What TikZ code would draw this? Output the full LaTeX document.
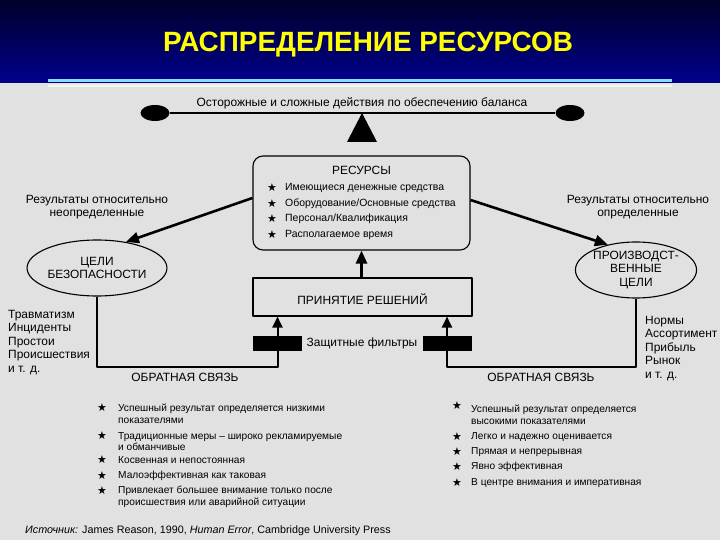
\documentclass[tikz,border=0pt]{standalone}
\usepackage{fontspec}
\setmainfont{Liberation Sans}
\newfontfamily\starfont{DejaVu Sans}
\usetikzlibrary{shapes.geometric,arrows.meta}
\definecolor{slidebg}{HTML}{E1E1E1}
\definecolor{bandtop}{HTML}{00002A}
\definecolor{bandbot}{HTML}{000088}
\definecolor{rulecyan}{HTML}{88DDFF}
\definecolor{titleyel}{HTML}{FFFF00}
\begin{document}
\begin{tikzpicture}[x=1bp,y=-1bp,line join=round,
  txt/.style={font=\fontsize{12}{14}\selectfont,inner sep=0pt},
  item/.style={font=\fontsize{10.5}{12}\selectfont,inner sep=0pt},
  note/.style={font=\fontsize{10.2}{11.8}\selectfont,inner sep=0pt},
  star/.style={font=\starfont\fontsize{11}{12}\selectfont,inner sep=0pt},
  weight/.style={ellipse,fill=black,minimum width=29bp,minimum height=16bp,inner sep=0pt},
  goal/.style={ellipse,draw,line width=1.1bp,minimum width=116bp,minimum height=56bp,
    inner sep=0pt,align=center,font=\fontsize{12}{13.5}\selectfont},
  filter/.style={fill=black,minimum width=49bp,minimum height=15bp,inner sep=0pt},
  arr/.style={line width=2.6bp,-{Triangle[length=13bp,width=11bp]}},
  fb/.style={line width=2bp,-{Triangle[length=11bp,width=10bp]}}]
\useasboundingbox (0,0) rectangle (720,540);
% background
\fill[slidebg] (0,0) rectangle (720,540);
\shade[top color=bandtop,bottom color=bandbot] (0,0) rectangle (720,78);
\fill[bandbot] (0,78) rectangle (720,83);
\fill[rulecyan] (48,79) rectangle (672,82.5);
\fill[red!12] (48,84) rectangle (672,85.5);
\fill[green!10] (48,85.5) rectangle (672,87);
\node[font=\bfseries\fontsize{28}{32}\selectfont,text=titleyel,inner sep=0pt] (title) at (368,45) {РАСПРЕДЕЛЕНИЕ РЕСУРСОВ};

% balance
\node[weight] (balL) at (155,113) {};
\node[weight] (balR) at (570,113) {};
\draw[line width=1.4bp] (balL) -- (balR);
\fill (362,113) -- (377,142) -- (347,142) -- cycle;
\node[txt] (balance) at (362,103) {Осторожные и сложные действия по обеспечению баланса};

% resources
\node[draw,line width=1.1bp,rounded corners=10bp,minimum width=217bp,minimum height=94bp,inner sep=0pt] (res) at (361.5,203) {};
\node[txt] (resT) at (361.5,170) {РЕСУРСЫ};
\node[star] (sA) at (272,188) {★};
\node[item,anchor=west] (resA) at (285,188) {Имеющиеся денежные средства};
\node[star] (sB) at (272,204) {★};
\node[item,anchor=west] (resB) at (285,204) {Оборудование/Основные средства};
\node[star] (sC) at (272,219) {★};
\node[item,anchor=west] (resC) at (285,219) {Персонал/Квалификация};
\node[star] (sD) at (272,235) {★};
\node[item,anchor=west] (resD) at (285,235) {Располагаемое время};

% goals
\node[goal] (safety) at (97,268) {ЦЕЛИ\\БЕЗОПАСНОСТИ};
\node[goal] (prod) at (636,270) {ПРОИЗВОДСТ-\\ВЕННЫЕ\\ЦЕЛИ};
\node[txt,align=center,font=\fontsize{12}{13}\selectfont] (uncert) at (97,207) {Результаты относительно\\неопределенные};
\node[txt,align=center,font=\fontsize{12}{13}\selectfont] (cert) at (638,207) {Результаты относительно\\определенные};
\draw[arr] (res.west |- 0,198) -- (safety.42);
\draw[arr] (res.east |- 0,200) -- (prod.138);

% decisions
\node[draw,line width=1.1bp,minimum width=219bp,minimum height=38bp,inner sep=0pt] (dec) at (362.5,297) {};
\node[txt] (decT) at (362.5,299) {ПРИНЯТИЕ РЕШЕНИЙ};
\draw[arr] (dec.north -| res.center) -- (res.south);

% feedback
\node[filter] (filtL) at (277.5,343.5) {};
\node[filter] (filtR) at (447,343.5) {};
\node[txt] (filtT) at (362,343.5) {Защитные фильтры};
\coordinate (fbL) at (277.5,367);
\coordinate (fbR) at (447,367);
\draw[fb] (safety.south) |- (fbL) -- (dec.south -| fbL);
\draw[fb] (prod.south) |- (fbR) -- (dec.south -| fbR);
\node[filter] at (filtL) {};
\node[filter] at (filtR) {};
\node[txt] (fbTL) at (185,377) {ОБРАТНАЯ СВЯЗЬ};
\node[txt] (fbTR) at (541,377) {ОБРАТНАЯ СВЯЗЬ};
\node[txt,anchor=north west,align=left,font=\fontsize{12}{13.5}\selectfont] (lossL) at (8,310) {Травматизм\\Инциденты\\Простои\\Происшествия\\и т. д.};
\node[txt,anchor=north west,align=left,font=\fontsize{12}{13.5}\selectfont] (gainR) at (645,316) {Нормы\\Ассортимент\\Прибыль\\Рынок\\и т. д.};

% bottom lists
\node[star] (lA) at (102,408) {★};
\node[note,anchor=west,align=left] (ltA) at (118,414) {Успешный результат определяется низкими\\показателями};
\node[star] (lB) at (102,436) {★};
\node[note,anchor=west,align=left] (ltB) at (118,441.5) {Традиционные меры – широко рекламируемые\\и обманчивые};
\node[star] (lC) at (102,460) {★};
\node[note,anchor=west] (ltC) at (118,460) {Косвенная и непостоянная};
\node[star] (lD) at (102,476) {★};
\node[note,anchor=west] (ltD) at (118,476) {Малоэффективная как таковая};
\node[star] (lE) at (102,491) {★};
\node[note,anchor=west,align=left] (ltE) at (118,497) {Привлекает большее внимание только после\\происшествия или аварийной ситуации};

\node[star] (rA) at (457,406) {★};
\node[note,anchor=west,align=left] (rtA) at (471,414.5) {Успешный результат определяется\\высокими показателями};
\node[star] (rB) at (457,437) {★};
\node[note,anchor=west] (rtB) at (471,437) {Легко и надежно оценивается};
\node[star] (rC) at (457,452) {★};
\node[note,anchor=west] (rtC) at (471,452) {Прямая и непрерывная};
\node[star] (rD) at (457,467) {★};
\node[note,anchor=west] (rtD) at (471,467) {Явно эффективная};
\node[star] (rE) at (457,483) {★};
\node[note,anchor=west] (rtE) at (471,483) {В центре внимания и императивная};

\node[inner sep=0pt,font=\fontsize{10.8}{12}\selectfont] (source) at (208,531) {\textit{Источник:} James Reason, 1990, \textit{Human Error}, Cambridge University Press};
\end{tikzpicture}
\end{document}
